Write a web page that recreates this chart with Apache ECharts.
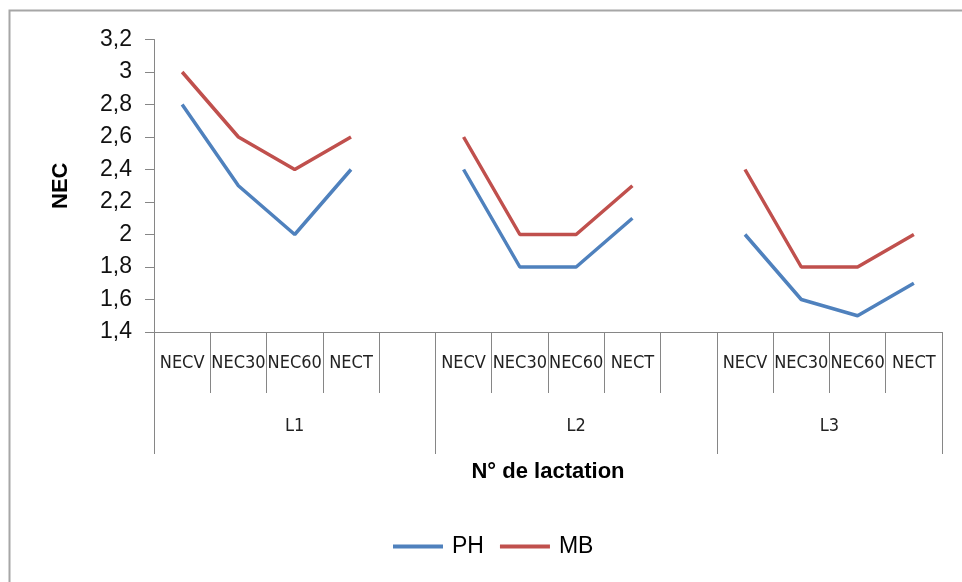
<!DOCTYPE html>
<html>
<head>
<meta charset="utf-8">
<script src="https://cdn.jsdelivr.net/npm/echarts@6/dist/echarts.min.js"></script>
<style>
html,body{margin:0;padding:0;background:#fff;}
#chart{width:962px;height:582px;}
</style>
</head>
<body>
<div id="chart"></div>
<script>
// Categories (level 1) and group labels (level 2); empty strings are the gaps between groups
const categories = ['NECV','NEC30','NEC60','NECT','', 'NECV','NEC30','NEC60','NECT','', 'NECV','NEC30','NEC60','NECT'];
const groups     = ['L1','L1','L1','L1','L1', 'L2','L2','L2','L2','L2', 'L3','L3','L3','L3'];
const groupStarts = [0, 5, 10];
const groupLabelIdx = {2: 'L1', 7: 'L2', 11: 'L3'};
const seriesPH = [2.8, 2.3, 2.0, 2.4, null, 2.4, 1.8, 1.8, 2.1, null, 2.0, 1.6, 1.5, 1.7];
const seriesMB = [3.0, 2.6, 2.4, 2.6, null, 2.6, 2.0, 2.0, 2.3, null, 2.4, 1.8, 1.8, 2.0];
const yTicks = {min: 1.4, max: 3.2, interval: 0.2};

const narrow = '"Liberation Sans Narrow", "DejaVu Sans Condensed", "Liberation Sans", sans-serif';
const sans = '"Liberation Sans", Arial, sans-serif';
const axisGray = '#868686';

const chart = echarts.init(document.getElementById('chart'));
chart.setOption({
  animation: false,
  backgroundColor: '#fff',
  grid: {left: 154, right: 20, top: 39.5, bottom: 250, containLabel: false},
  graphic: [{
    type: 'rect', silent: true, z: -1,
    shape: {x: 9.5, y: 10.5, width: 1000, height: 1000},
    style: {fill: 'none', stroke: '#a6a6a6', lineWidth: 2}
  }],
  legend: {
    left: 393, top: 535, padding: 0,
    itemWidth: 50, itemHeight: 4, itemGap: 16,
    icon: 'rect',
    textStyle: {fontFamily: sans, fontSize: 23, color: '#000', padding: [0, 0, 0, 4]},
    data: ['PH', 'MB']
  },
  xAxis: [{
    type: 'category',
    data: categories,
    boundaryGap: true,
    position: 'bottom',
    axisLine: {show: true, lineStyle: {color: axisGray, width: 1}},
    axisTick: {show: true, length: 61, interval: 0, alignWithLabel: false, lineStyle: {color: axisGray}},
    axisLabel: {interval: 0, margin: 22, fontFamily: narrow, fontSize: 18, color: '#222'},
    name: 'N° de lactation',
    nameLocation: 'middle',
    nameGap: 129,
    nameTextStyle: {fontFamily: sans, fontWeight: 'bold', fontSize: 22, color: '#000'}
  }, {
    type: 'category',
    data: groups,
    boundaryGap: true,
    position: 'bottom',
    offset: 0,
    axisLine: {show: false},
    axisTick: {
      show: true, length: 122, alignWithLabel: false,
      interval: function (i) { return groupStarts.indexOf(i) >= 0; },
      lineStyle: {color: axisGray}
    },
    axisLabel: {
      interval: function (i) { return groupLabelIdx[i] !== undefined; },
      margin: 85,
      formatter: function (v, i) {
        return i === 11 ? '{s|' + v + '}' : v;
      },
      rich: {s: {fontFamily: narrow, fontSize: 18, color: '#222', padding: [0, 0, 0, 56]}},
      fontFamily: narrow, fontSize: 18, color: '#222'
    }
  }],
  yAxis: {
    type: 'value',
    min: yTicks.min, max: yTicks.max, interval: yTicks.interval,
    axisLine: {show: true, lineStyle: {color: axisGray, width: 1}},
    axisTick: {show: true, length: 9, lineStyle: {color: axisGray}},
    splitLine: {show: false},
    axisLabel: {
      margin: 22, fontFamily: sans, fontSize: 23, color: '#111',
      formatter: function (v) { return String(Math.round(v * 10) / 10).replace('.', ','); }
    },
    name: 'NEC',
    nameLocation: 'middle',
    nameGap: 82,
    nameRotate: 90,
    nameTextStyle: {fontFamily: sans, fontWeight: 'bold', fontSize: 22, color: '#000'}
  },
  series: [{
    name: 'PH', type: 'line', data: seriesPH, xAxisIndex: 0,
    connectNulls: false, showSymbol: false, symbol: 'none',
    lineStyle: {color: '#4F81BD', width: 3.5},
    itemStyle: {color: '#4F81BD'}
  }, {
    name: 'MB', type: 'line', data: seriesMB, xAxisIndex: 0,
    connectNulls: false, showSymbol: false, symbol: 'none',
    lineStyle: {color: '#C0504D', width: 3.5},
    itemStyle: {color: '#C0504D'}
  }]
});
</script>
</body>
</html>
